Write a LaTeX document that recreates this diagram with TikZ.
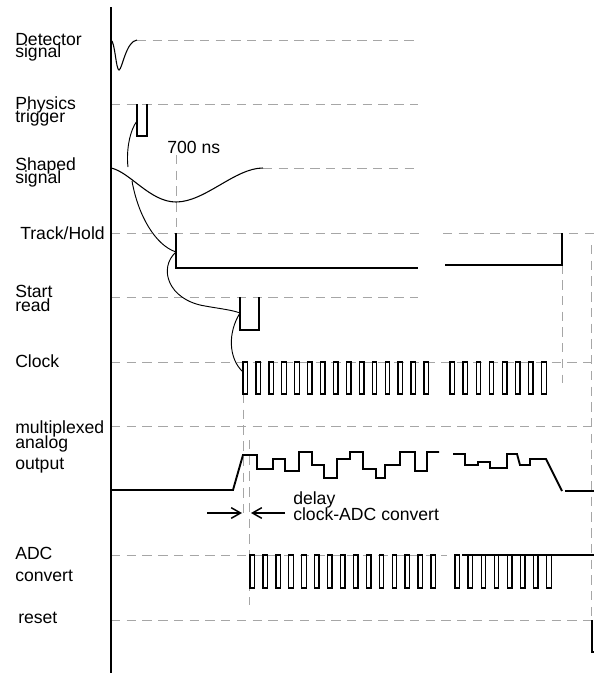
\documentclass[tikz,border=0pt]{standalone}
\usepackage{fontspec}
\setmainfont{Liberation Sans}
\usetikzlibrary{arrows.meta}
\begin{document}
\begin{tikzpicture}[x=0.75pt,y=-0.75pt,
  lbl/.style={anchor=base west,inner sep=0pt,font=\fontsize{13.2}{15}\selectfont},
  guide/.style={draw=gray!70,line width=0.75pt,dash pattern=on 7pt off 4.8pt},
  axisline/.style={draw=black,line width=1.5pt},
  wave/.style={draw=black,line width=1.4pt,line join=miter},
  pulse/.style={draw=black,line width=1pt},
  link/.style={draw=black,line width=0.7pt},
  arr/.style={draw=black,line width=1.1pt,-{Straight Barb[length=7pt,width=8pt]}}
]
\useasboundingbox (0,0) rectangle (594,675);
% guide lines
\draw[guide] (137,40) -- (418,40);
\draw[guide] (111,104) -- (418,104);
\draw[guide] (263,168) -- (418,168);
\draw[guide] (111,233) -- (420,233);
\draw[guide] (443,233) -- (594,233);
\draw[guide] (111,297) -- (418,297);
\draw[guide] (111,362) -- (594,362);
\draw[guide] (111,426) -- (594,426);
\draw[guide] (111,555) -- (447,555);
\draw[guide] (111,620) -- (591,620);
\draw[guide] (176,155) -- (176,233);
\draw[guide] (243,394) -- (243,518);
\draw[guide] (249,440) -- (249,605);
\draw[guide] (562,233) -- (562,383);
\draw[guide] (591,245) -- (591,620);
% axis
\draw[axisline] (111,7) -- (111,673);
% labels
\node[lbl] (det1) at (15,45) {Detector};
\node[lbl] (det2) at (15,57) {signal};
\node[lbl] (phy1) at (15,109) {Physics};
\node[lbl] (phy2) at (15,122) {trigger};
\node[lbl] (sha1) at (15,170) {Shaped};
\node[lbl] (sha2) at (15,183) {signal};
\node[lbl] (th) at (20,239) {Track/Hold};
\node[lbl] (sr1) at (15,297) {Start};
\node[lbl] (sr2) at (15,311) {read};
\node[lbl] (clk) at (15,367) {Clock};
\node[lbl] (mux1) at (15,433) {multiplexed};
\node[lbl] (mux2) at (15,448) {analog};
\node[lbl] (mux3) at (15,469) {output};
\node[lbl] (adc1) at (15,559) {ADC};
\node[lbl] (adc2) at (15,581) {convert};
\node[lbl] (rst) at (18,623) {reset};
\node[lbl] (ns) at (167,153) {700 ns};
\node[lbl] (dl1) at (293,504) {delay};
\node[lbl] (dl2) at (293,520) {clock-ADC convert};
% detector signal
\draw[link,line width=0.8pt] (111,40) .. controls (115,42) and (116,70) .. (119,70)
  .. controls (122,70) and (126,41) .. (137,40);
% physics trigger
\draw[pulse,line width=1.2pt] (137,104) -- (137,136) -- (147,136) -- (147,104);
% shaped signal
\draw[link,line width=0.8pt] (111,168) .. controls (130,172) and (150,202) .. (176,202)
  .. controls (205,202) and (235,168) .. (263,168);
% track / hold
\draw[wave,line width=1.6pt] (176,233) -- (176,268) -- (418,268);
\draw[wave,line width=1.6pt] (445,265) -- (562,265) -- (562,233);
% start read
\draw[pulse,line width=1.2pt] (240,297) -- (240,330) -- (259,330) -- (259,297);
% causal links
\coordinate (c1a) at (137,121);
\coordinate (c1b) at (128,167);
\coordinate (c2a) at (132,181);
\coordinate (c2b) at (176,252);
\coordinate (c3b) at (240,313);
\coordinate (c4b) at (243,372);
\draw[link] (c1a) .. controls (130,130) and (126,150) .. (c1b);
\draw[link] (c2a) .. controls (138,215) and (155,245) .. (c2b);
\draw[link] (c2b) .. controls (158,268) and (168,300) .. (205,306)
  .. controls (222,309) and (232,310) .. (c3b);
\draw[link] (c3b) .. controls (228,332) and (228,358) .. (c4b);
% clock
\foreach \i in {0,...,14} {\draw[pulse] ({243+12.93*\i},362) rectangle ++(4.5,32);}
\foreach \i in {0,...,7} {\draw[pulse] ({450+13.1*\i},362) rectangle ++(4.5,32);}
% multiplexed analog output
\draw[wave] (111,490) -- (233,490) -- (243,455) -- (257,455) -- (257,469) -- (273,469)
  -- (273,459) -- (285,459) -- (285,471) -- (299,471) -- (299,452) -- (312,452)
  -- (312,465) -- (324,465) -- (324,478) -- (337,478) -- (337,459) -- (350,459)
  -- (350,452) -- (363,452) -- (363,469) -- (376,469) -- (376,478) -- (385,478)
  -- (385,465) -- (400,465) -- (400,452) -- (415,452) -- (415,471) -- (427,471)
  -- (427,452) -- (439,452);
\draw[wave] (453,454) -- (465,454) -- (465,465) -- (478,465) -- (478,462) -- (490,462)
  -- (490,468) -- (507,468) -- (507,454) -- (517,454) -- (520,465) -- (530,465)
  -- (530,459) -- (546,459) -- (562,491);
\draw[wave] (565,491) -- (594,491);
% delay arrows
\coordinate (a1s) at (207,513);
\coordinate (a1e) at (242,513);
\coordinate (a2s) at (285,513);
\coordinate (a2e) at (251,513);
\draw[arr] (a1s) -- (a1e);
\draw[arr] (a2s) -- (a2e);
% ADC convert
\foreach \i in {0,...,14} {\draw[pulse] ({250+12.93*\i},555) rectangle ++(4.5,33);}
\foreach \i in {0,...,7} {\draw[pulse] ({455+13.1*\i},555) rectangle ++(4.5,33);}
\draw[wave] (462,555) -- (594,555);
% reset
\draw[wave] (592,620) -- (592,652) -- (594,652);
\end{tikzpicture}
\end{document}
